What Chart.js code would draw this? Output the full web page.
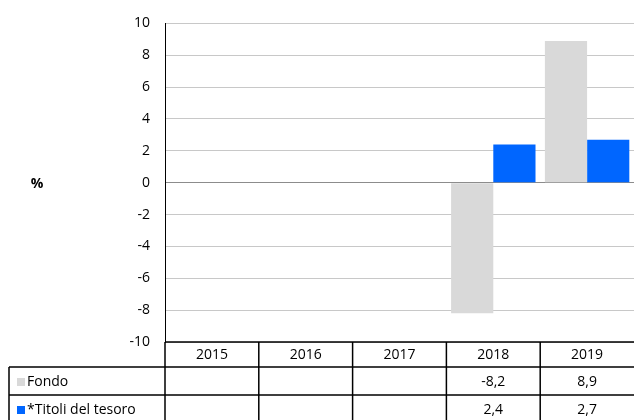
<!DOCTYPE html>
<html>
<head>
<meta charset="utf-8">
<script src="https://cdn.jsdelivr.net/npm/chart.js@4"></script>
<style>
  html, body { margin: 0; padding: 0; background: #fff; }
  #wrap { width: 634px; height: 420px; position: relative; }
</style>
</head>
<body>
<div id="wrap"><canvas id="chart"></canvas></div>
<script>
// Fondo vs titoli del tesoro, rendimenti annui (%)
const YEARS        = ['2015', '2016', '2017', '2018', '2019'];
const SERIES_NAMES = ['Fondo', '*Titoli del tesoro'];
const FONDO        = [null, null, null, -8.2, 8.9];
const TITOLI       = [null, null, null, 2.4, 2.7];
const Y_MIN = -10, Y_MAX = 10, Y_STEP = 2;

const COLORS = ['#d9d9d9', '#0066ff'];
const FONT   = '"Open Sans", "Noto Sans", sans-serif';

const fmt = v => (v === null ? '' : String(v).replace('.', ','));

// ── Data table under the plot, aligned to the category scale ──────────────
const tablePlugin = {
  id: 'dataTable',
  afterDraw(chart) {
    const ctx = chart.ctx;
    const xs  = chart.scales.x;
    const area = chart.chartArea;
    const step = (area.right - area.left) / YEARS.length;
    const left = 9;
    const rows = [area.bottom, area.bottom + 25, area.bottom + 53, area.bottom + 81];
    const series = [FONDO, TITOLI];

    ctx.save();
    ctx.strokeStyle = '#000';
    ctx.lineWidth = 1.5;

    // horizontal rules
    ctx.beginPath();
    ctx.moveTo(area.left, rows[0]); ctx.lineTo(area.right, rows[0]);
    for (let r = 1; r < rows.length; r++) {
      ctx.moveTo(left, rows[r]); ctx.lineTo(area.right, rows[r]);
    }
    // vertical rules (right border falls off the canvas)
    ctx.moveTo(left, rows[1]); ctx.lineTo(left, rows[3]);
    for (let i = 0; i < YEARS.length; i++) {
      const x = area.left + i * step;
      ctx.moveTo(x, rows[0]); ctx.lineTo(x, rows[3]);
    }
    ctx.stroke();

    ctx.fillStyle = '#000';
    ctx.font = '14px ' + FONT;
    ctx.textBaseline = 'middle';

    // header: years
    ctx.textAlign = 'center';
    YEARS.forEach((y, i) => {
      ctx.fillText(y, xs.getPixelForValue(i), (rows[0] + rows[1]) / 2 + 1);
    });

    // series rows
    series.forEach((vals, s) => {
      const yMid = (rows[s + 1] + rows[s + 2]) / 2 + 1;
      ctx.fillStyle = COLORS[s];
      ctx.fillRect(left + 8, yMid - 4, 8, 8);
      ctx.fillStyle = '#000';
      ctx.textAlign = 'left';
      ctx.fillText(SERIES_NAMES[s], left + 18, yMid);
      ctx.textAlign = 'center';
      vals.forEach((v, i) => {
        ctx.fillText(fmt(v), xs.getPixelForValue(i), yMid);
      });
    });

    // unit label
    ctx.font = 'bold 14px ' + FONT;
    ctx.textAlign = 'center';
    ctx.fillText('%', 37, (area.top + area.bottom) / 2 + 1);
    ctx.restore();
  }
};

new Chart(document.getElementById('chart'), {
  type: 'bar',
  data: {
    labels: YEARS,
    datasets: [
      { label: SERIES_NAMES[0], data: FONDO,  backgroundColor: COLORS[0] },
      { label: SERIES_NAMES[1], data: TITOLI, backgroundColor: COLORS[1] }
    ]
  },
  options: {
    responsive: true,
    maintainAspectRatio: false,
    animation: false,
    layout: { padding: { top: 22, bottom: 78, left: 0, right: -2 } },
    datasets: { bar: { categoryPercentage: 0.9, barPercentage: 1.0 } },
    plugins: {
      legend:  { display: false },
      tooltip: { enabled: false }
    },
    scales: {
      x: { display: false },
      y: {
        min: Y_MIN,
        max: Y_MAX,
        afterFit: s => { s.width = 165; },
        ticks: {
          stepSize: Y_STEP,
          padding: 15,
          color: '#000',
          font: { family: FONT, size: 14 }
        },
        grid: {
          drawTicks: false,
          color: c => (c.tick && c.tick.value === 0 ? '#8c8c8c' : '#c8c8c8'),
          lineWidth: 1
        },
        border: { display: true, color: '#000', width: 1 }
      }
    }
  },
  plugins: [tablePlugin]
});
</script>
</body>
</html>
